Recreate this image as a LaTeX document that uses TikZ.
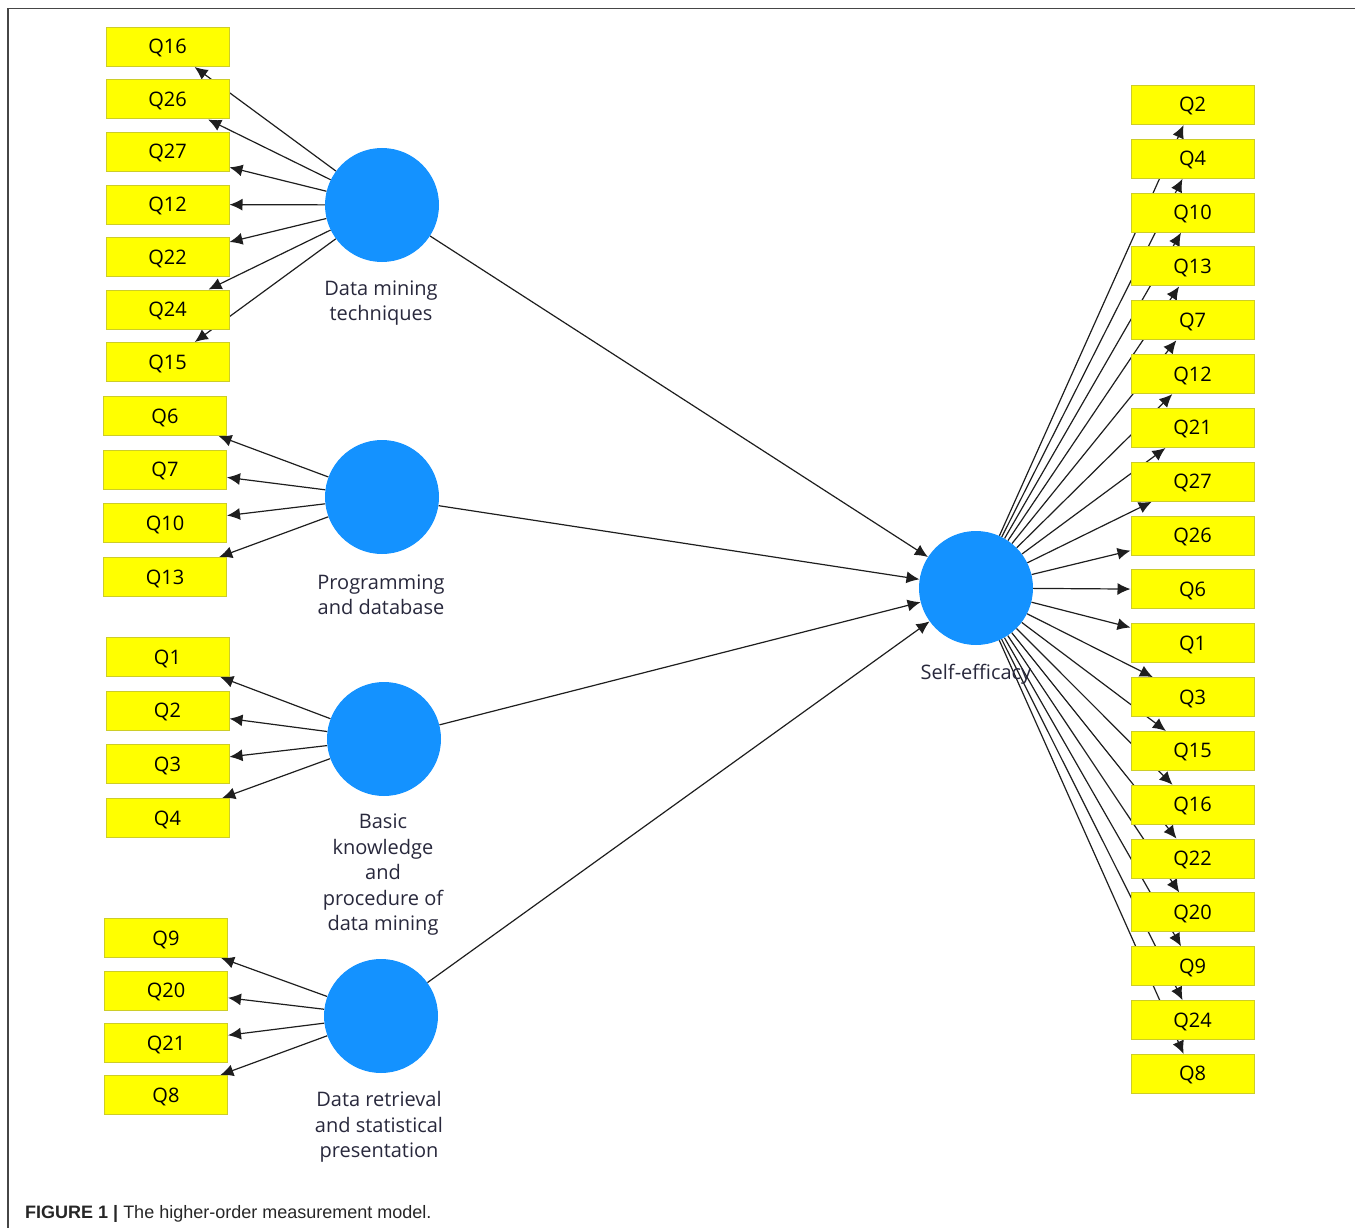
\documentclass[tikz,border=0pt]{standalone}
\usepackage{fontspec}
\setmainfont{Open Sans}
\newfontfamily\capfont{Liberation Sans}
\usetikzlibrary{arrows.meta,backgrounds}
\definecolor{qyel}{RGB}{255,255,0}
\definecolor{qbord}{RGB}{205,205,40}
\definecolor{qblue}{RGB}{20,146,255}
\definecolor{linec}{RGB}{30,30,30}
\definecolor{labc}{RGB}{40,40,60}
\definecolor{framec}{RGB}{70,70,70}
\begin{document}
\begin{tikzpicture}[x=1pt,y=-1pt,
  ind/.style={draw=qbord, fill=qyel, minimum width=123pt, minimum height=39pt, inner sep=0pt, line width=1pt, font=\fontsize{20}{20}\selectfont, text=black, text height=14pt, text depth=0pt},
  lat/.style={circle, fill=qblue, minimum size=114pt, inner sep=0pt},
  lab/.style={align=center, font=\fontsize{20}{25.5}\selectfont, text=labc, inner sep=0pt},
  ld/.style={draw=linec, line width=1.2pt, -{Latex[length=13pt,width=12pt]}}]
\useasboundingbox (0,0) rectangle (1355,1228);
\draw[framec, line width=1.2pt] (8,1228) -- (8,8.5) -- (1355,8.5);

% latent variables
\node[lat] (dm) at (382,205) {};
\node[lat] (pd) at (382,497) {};
\node[lat] (bk) at (384,739) {};
\node[lat] (dr) at (381,1016) {};
\node[lat] (se) at (976,588) {};

\node[lab] (dml) at (381,303) {Data mining\\techniques};
\node[lab] (pdl) at (381,595) {Programming\\and database};
\node[lab] (bkl) at (383,875) {Basic\\knowledge\\and\\procedure of\\data mining};
\node[lab] (drl) at (379,1127) {Data retrieval\\and statistical\\presentation};
\node[lab] (sel) at (976,674) {Self-efficacy};

% indicators
\foreach \t/\yy [count=\i] in {Q16/47,Q26/99.5,Q27/152,Q12/204.5,Q22/257,Q24/309.5,Q15/362}
  \node[ind] (a\i) at (167.5,\yy) {\t};
\foreach \t/\yy [count=\i] in {Q6/416,Q7/469.5,Q10/523,Q13/577}
  \node[ind] (b\i) at (165,\yy) {\t};
\foreach \t/\yy [count=\i] in {Q1/657,Q2/710.5,Q3/764,Q4/818}
  \node[ind] (c\i) at (167.5,\yy) {\t};
\foreach \t/\yy [count=\i] in {Q9/938,Q20/990.5,Q21/1043,Q8/1095}
  \node[ind] (d\i) at (166,\yy) {\t};
\foreach \t [count=\i] in {Q2,Q4,Q10,Q13,Q7,Q12,Q21,Q27,Q26,Q6,Q1,Q3,Q15,Q16,Q22,Q20,Q9,Q24,Q8}
  \node[ind] (e\i) at (1192.5,{105+(\i-1)*53.83}) {\t};

\begin{scope}[on background layer]
  \foreach \i in {1,...,7} \draw[ld] (dm) -- (a\i);
  \foreach \i in {1,...,4} \draw[ld] (pd) -- (b\i);
  \foreach \i in {1,...,4} \draw[ld] (bk) -- (c\i);
  \foreach \i in {1,...,4} \draw[ld] (dr) -- (d\i);
  \foreach \i in {1,...,19} \draw[ld] (se) -- (e\i);
  \draw[ld] (dm) -- (se);
  \draw[ld] (pd) -- (se);
  \draw[ld] (bk) -- (se);
  \draw[ld] (dr) -- (se);
\end{scope}

\node[anchor=base west, inner sep=0pt, font=\capfont\fontsize{18}{18}\selectfont, text=black!85] (cap) at (25,1218)
  {\textbf{FIGURE 1 |} The higher-order measurement model.};
\end{tikzpicture}
\end{document}
